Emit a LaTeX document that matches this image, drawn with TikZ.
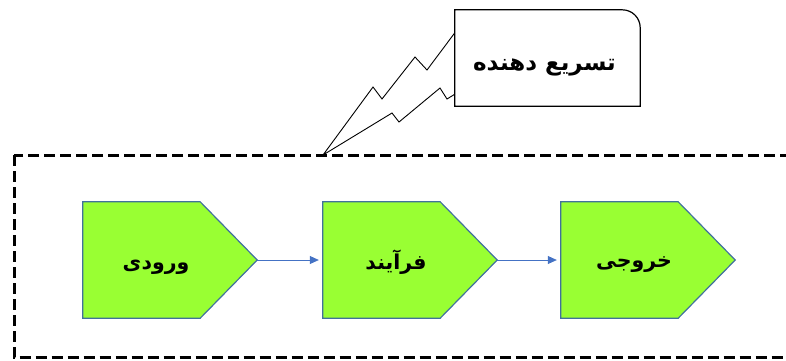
\documentclass[tikz,border=0pt]{standalone}
\usepackage{fontspec}
\usetikzlibrary{arrows.meta}
\newfontfamily\arabicfont[Script=Arabic]{DejaVu Sans}
\TeXXeTstate=1
\definecolor{boxgreen}{HTML}{99FF33}
\definecolor{boxedge}{HTML}{41719C}
\definecolor{arrblue}{HTML}{4472C4}
\tikzset{
  pentnode/.style={rectangle, minimum width=174pt, minimum height=116pt, inner sep=0pt},
  pentshape/.style={fill=boxgreen, draw=boxedge, line width=1.2pt, line join=miter},
  lbl/.style={font=\arabicfont\bfseries\fontsize{20.5}{24}\selectfont, inner sep=0pt},
  flow/.style={draw=arrblue, line width=0.8pt, -{Triangle[length=9pt,width=8pt]}},
  frame/.style={draw=black, line width=3pt, dash pattern=on 11pt off 5pt},
  callbox/.style={rectangle, minimum width=185pt, minimum height=96pt, inner sep=0pt},
  calledge/.style={draw=black, line width=1.2pt, fill=white},
  bolt/.style={draw=black, line width=0.9pt, line join=miter}
}
\begin{document}
\begin{tikzpicture}[x=1pt,y=-1pt]
\useasboundingbox (0,0) rectangle (786,360);
% dashed frame
\draw[frame] (14,155) rectangle (800,357.5);
% boxes
\node[pentnode] (b1) at (170,260) {};
\node[pentnode] (b2) at (410,260) {};
\node[pentnode] (b3) at (648,260) {};
\foreach \n in {b1,b2,b3}{
  \path[pentshape] (\n.north west) -- ([xshift=-57pt]\n.north east) -- (\n.east)
    -- ([xshift=-57pt]\n.south east) -- (\n.south west) -- cycle;
}
\node[lbl] (t1) at ([xshift=-14pt,yshift=-7pt]b1.center) {\beginR ورودی\endR};
\node[lbl] (t2) at ([xshift=-14pt,yshift=-2pt]b2.center) {\beginR فرآیند\endR};
\node[lbl] (t3) at ([xshift=-14pt,yshift=-5pt]b3.center) {\beginR خروجی\endR};
% connectors
\draw[flow] (b1.east) -- ([xshift=-4pt]b2.west);
\draw[flow] (b2.east) -- ([xshift=-4pt]b3.west);
% callout
\coordinate (tip) at (323,155);
\node[callbox] (call) at (547.5,58) {};
\draw[bolt] ([yshift=-23pt]call.north west) -- (427,70) -- (415,57) -- (382,99) -- (373,87)
  -- (tip) -- (392,113) -- (399,122) -- (440,88) -- (447,99) -- ([yshift=12pt]call.south west);
\path[calledge] (call.south west) -- (call.north west) -- ([xshift=-18pt]call.north east)
  .. controls ([xshift=-8pt]call.north east) and ([yshift=-8pt]call.north east) .. ([yshift=-18pt]call.north east)
  -- (call.south east) -- cycle;
\node[lbl, font=\arabicfont\bfseries\fontsize{23}{27}\selectfont] (ct) at ([xshift=-3pt,yshift=-9pt]call.center) {\beginR تسریع دهنده\endR};
\end{tikzpicture}
\end{document}
